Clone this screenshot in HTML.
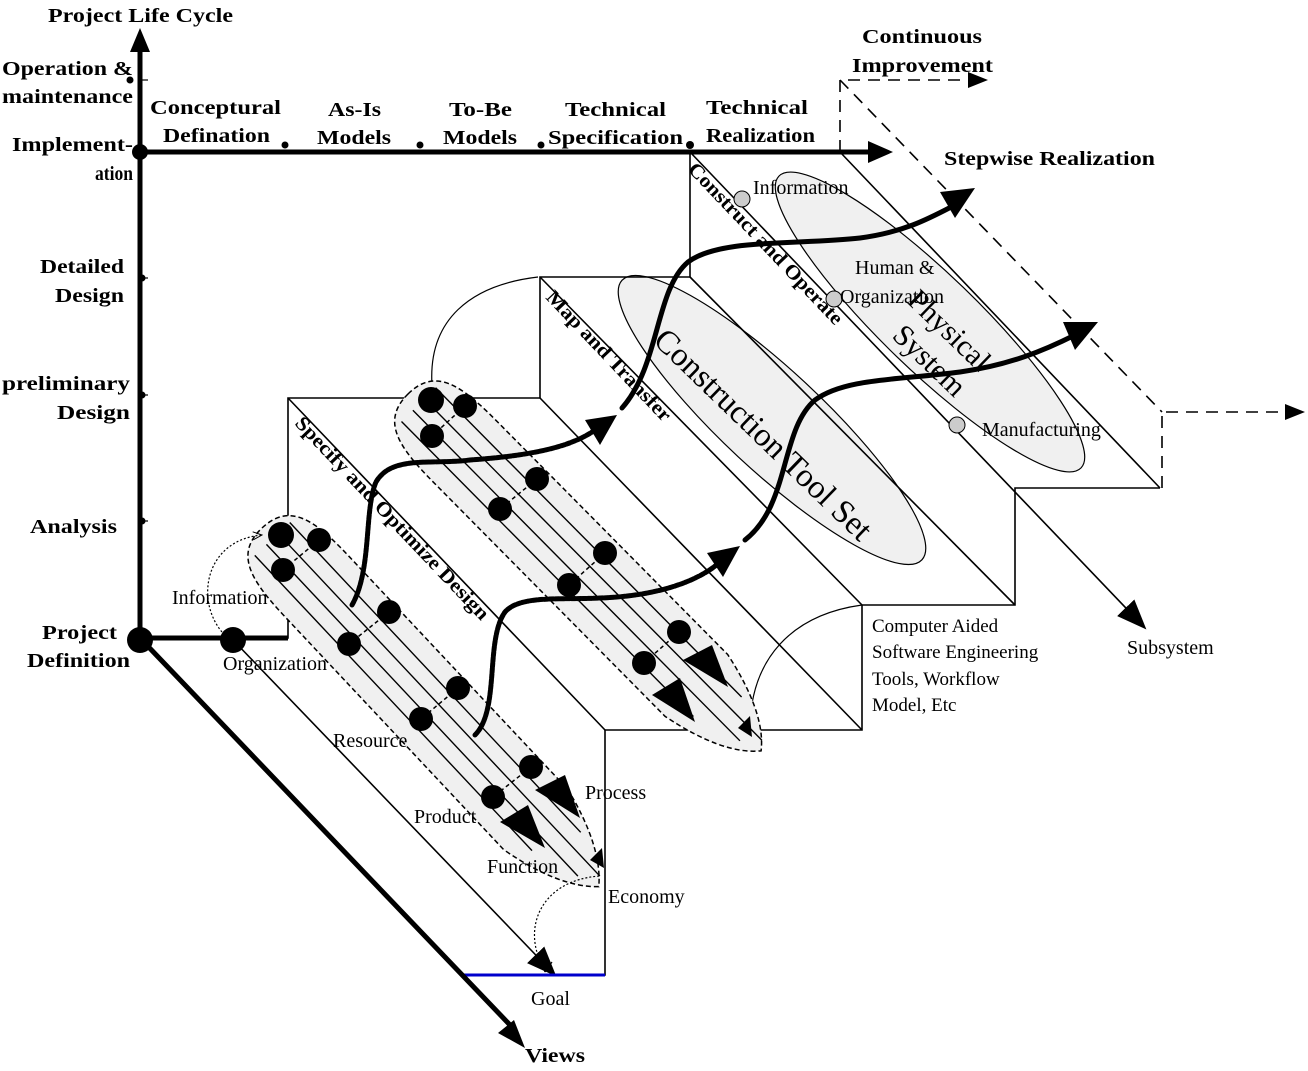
<!DOCTYPE html>
<html><head><meta charset="utf-8"><style>
html,body{margin:0;padding:0;background:#fff;}
svg{display:block;}
text{font-family:"Liberation Serif",serif;fill:#000;}
.b{font-weight:bold;font-size:20px;}
.r{font-size:20px;}
</style></head><body>
<svg width="1308" height="1071" viewBox="0 0 1308 1071" xmlns="http://www.w3.org/2000/svg">
<defs>
<marker id="ahb" markerWidth="30" markerHeight="24" refX="28" refY="12" orient="auto" markerUnits="userSpaceOnUse">
<path d="M0,0 L30,12 L0,24 Z" fill="#000"/></marker>
<marker id="aho" markerWidth="10" markerHeight="10" refX="9" refY="5" orient="auto" markerUnits="userSpaceOnUse">
<path d="M0,1 L9,5 L0,9" fill="none" stroke="#000" stroke-width="1"/></marker>
</defs>

<ellipse cx="772" cy="420" rx="205" ry="50" transform="rotate(43 772 420)" fill="#f0f0f0" stroke="#000" stroke-width="1.2"/>
<ellipse cx="930" cy="322" rx="210" ry="48" transform="rotate(44 930 322)" fill="#f0f0f0" stroke="#000" stroke-width="1.2"/>

<g stroke="#000" stroke-width="1.6" fill="none">
<polyline points="140,638 288,638 288,398 540,398 540,277 690,277 690,152"/>
<polyline points="462,975 605,975 605,730 862,730 862,605 1015,605 1015,488 1160,488"/>
<line x1="288" y1="398" x2="605" y2="730"/>
<line x1="540" y1="398" x2="862" y2="730"/>
<line x1="540" y1="277" x2="862" y2="605"/>
<line x1="690" y1="277" x2="1015" y2="605"/>
<line x1="840" y1="152" x2="1160" y2="488"/>
<line x1="690" y1="152" x2="1145" y2="628" marker-end="url(#ahb)"/>
<line x1="233" y1="640" x2="555" y2="975" marker-end="url(#ahb)"/>
<path d="M432,385 C428,320 470,285 538,277" stroke-width="1.2"/>
<path d="M750,725 C752,660 790,615 862,605" stroke-width="1.2"/>
</g>
<line x1="462" y1="975" x2="605" y2="975" stroke="#0000cc" stroke-width="3"/>

<g stroke="#000" stroke-width="1.6" fill="none" stroke-dasharray="12,8">
<polyline points="840,152 840,80 975,80"/>
<line x1="840" y1="80" x2="1162" y2="412"/>
<polyline points="1162,488 1162,412 1295,412"/>
</g>
<path d="M968,72 L988,80 L968,88 Z" fill="#000"/>
<path d="M1285,404 L1305,412 L1285,420 Z" fill="#000"/>

<g transform="translate(262,528) rotate(46.8)">
<path d="M0,0 C0,-38 30,-44 80,-44 L400,-44 Q465,-30 492,0 Q465,30 400,44 L80,44 C30,44 0,38 0,0 Z" fill="#f0f0f0" stroke="#000" stroke-width="1.5" stroke-dasharray="5,3"/>
<g stroke="#000" stroke-width="1.4">
<line x1="15" y1="-24" x2="440" y2="-24"/>
<line x1="15" y1="-8" x2="485" y2="-8"/>
<line x1="15" y1="8" x2="470" y2="8"/>
<line x1="15" y1="24" x2="420" y2="24"/>
</g>
</g>
<g transform="translate(408,394) rotate(45.3)">
<path d="M0,0 C0,-38 30,-44 80,-44 L410,-44 Q478,-30 502,0 Q478,30 410,44 L80,44 C30,44 0,38 0,0 Z" fill="#f0f0f0" stroke="#000" stroke-width="1.5" stroke-dasharray="5,3"/>
<g stroke="#000" stroke-width="1.4">
<line x1="15" y1="-24" x2="450" y2="-24"/>
<line x1="15" y1="-8" x2="495" y2="-8"/>
<line x1="15" y1="8" x2="480" y2="8"/>
<line x1="15" y1="24" x2="430" y2="24"/>
</g>
</g>

<g stroke="#000" stroke-width="1.5" stroke-dasharray="4,3">
<line x1="319" y1="540" x2="283" y2="570"/><line x1="389" y1="612" x2="349" y2="644"/>
<line x1="458" y1="688" x2="421" y2="719"/><line x1="531" y1="767" x2="493" y2="797"/>
<line x1="465" y1="406" x2="432" y2="436"/><line x1="537" y1="479" x2="500" y2="509"/>
<line x1="605" y1="553" x2="569" y2="585"/><line x1="679" y1="632" x2="644" y2="663"/>
</g>
<g fill="#000">
<circle cx="281" cy="535" r="13"/><circle cx="319" cy="540" r="12"/><circle cx="283" cy="570" r="12"/>
<circle cx="389" cy="612" r="12"/><circle cx="349" cy="644" r="12"/>
<circle cx="458" cy="688" r="12"/><circle cx="421" cy="719" r="12"/>
<circle cx="531" cy="767" r="12"/><circle cx="493" cy="797" r="12"/>
<circle cx="431" cy="400" r="13"/><circle cx="465" cy="406" r="12"/><circle cx="432" cy="436" r="12"/>
<circle cx="537" cy="479" r="12"/><circle cx="500" cy="509" r="12"/>
<circle cx="605" cy="553" r="12"/><circle cx="569" cy="585" r="12"/>
<circle cx="679" cy="632" r="12"/><circle cx="644" cy="663" r="12"/>
<path d="M535,790 L565,775 L580,818 Z"/>
<path d="M500,822 L528,805 L545,848 Z"/>
<path d="M590,860 L602,848 L604,868 Z"/>
<path d="M683,660 L712,645 L728,687 Z"/>
<path d="M652,695 L680,678 L695,722 Z"/>
<path d="M738,728 L750,716 L752,737 Z"/>
</g>

<g fill="none" stroke="#000" stroke-width="5" stroke-linecap="round" stroke-dasharray="4,1.5">
<path d="M352,605 C372,570 364,510 376,482 C392,455 430,465 470,460 C540,455 575,445 598,428"/>
<path d="M475,735 C500,710 485,640 505,612 C520,595 560,600 600,598 C660,596 700,580 720,562"/>
</g>
<path d="M585,420 L617,415 L600,445 Z" fill="#000"/>
<path d="M707,553 L740,546 L723,577 Z" fill="#000"/>
<g fill="none" stroke="#000" stroke-width="5" stroke-linecap="round">
<path d="M622,408 C660,365 655,290 688,262 C720,238 800,245 860,238 C905,232 930,218 955,205"/>
<path d="M745,540 C790,505 780,430 815,400 C845,378 900,380 960,372 C1010,365 1045,350 1075,335"/>
</g>
<path d="M940,192 L975,188 L955,218 Z" fill="#000"/>
<path d="M1063,322 L1098,322 L1075,350 Z" fill="#000"/>

<g fill="none" stroke="#000" stroke-width="1.2" stroke-dasharray="2,2">
<path d="M222,632 C195,600 205,540 262,535" marker-end="url(#aho)"/>
<path d="M545,970 C520,930 540,880 600,876" />
</g>
<path d="M545,972 L540,960 M545,972 L552,962" stroke="#000" stroke-width="1.2"/>

<g fill="#ccc" stroke="#000" stroke-width="1">
<circle cx="742" cy="199" r="8"/><circle cx="834" cy="299" r="8"/><circle cx="957" cy="425" r="8"/>
</g>

<g stroke="#000" stroke-width="5" fill="none">
<line x1="140" y1="640" x2="140" y2="50"/>
<line x1="140" y1="152" x2="870" y2="152"/>
<line x1="140" y1="638" x2="510" y2="1025"/>
<line x1="140" y1="638" x2="288" y2="638"/>
</g>
<path d="M130,52 L140,28 L150,52 Z" fill="#000"/>
<path d="M868,141 L893,152 L868,163 Z" fill="#000"/>
<path d="M498,1033 L525,1048 L514,1020 Z" fill="#000"/>
<circle cx="140" cy="640" r="13" fill="#000"/>
<circle cx="140" cy="152" r="8" fill="#000"/>
<circle cx="233" cy="640" r="13" fill="#000"/>
<g fill="#000">
<circle cx="130" cy="80" r="3.5"/><circle cx="142" cy="278" r="3.5"/><circle cx="142" cy="395" r="3.5"/><circle cx="142" cy="521" r="3.5"/>
<circle cx="285" cy="145" r="3.5"/><circle cx="420" cy="145" r="3.5"/><circle cx="541" cy="145" r="3.5"/><circle cx="690" cy="145" r="4"/>
</g>
<g stroke="#000" stroke-width="1.2">
<line x1="140" y1="80" x2="148" y2="80"/><line x1="140" y1="278" x2="148" y2="278"/><line x1="140" y1="395" x2="148" y2="395"/><line x1="140" y1="521" x2="148" y2="521"/>
</g>

<g class="b">
<text x="48" y="22" textLength="185" lengthAdjust="spacingAndGlyphs">Project Life Cycle</text>
<text x="2" y="75" textLength="131" lengthAdjust="spacingAndGlyphs">Operation &amp;</text>
<text x="2" y="103" textLength="131" lengthAdjust="spacingAndGlyphs">maintenance</text>
<text x="12" y="151" textLength="121" lengthAdjust="spacingAndGlyphs">Implement-</text>
<text x="95" y="180" textLength="38" lengthAdjust="spacingAndGlyphs">ation</text>
<text x="40" y="273" textLength="84" lengthAdjust="spacingAndGlyphs">Detailed</text>
<text x="55" y="302" textLength="69" lengthAdjust="spacingAndGlyphs">Design</text>
<text x="2" y="390" textLength="128" lengthAdjust="spacingAndGlyphs">preliminary</text>
<text x="57" y="419" textLength="73" lengthAdjust="spacingAndGlyphs">Design</text>
<text x="30" y="533" textLength="87" lengthAdjust="spacingAndGlyphs">Analysis</text>
<text x="42" y="639" textLength="75" lengthAdjust="spacingAndGlyphs">Project</text>
<text x="27" y="667" textLength="103" lengthAdjust="spacingAndGlyphs">Definition</text>
<text x="150" y="114" textLength="131" lengthAdjust="spacingAndGlyphs">Conceptural</text>
<text x="163" y="142" textLength="107" lengthAdjust="spacingAndGlyphs">Defination</text>
<text x="328" y="116" textLength="53" lengthAdjust="spacingAndGlyphs">As-Is</text>
<text x="317" y="144" textLength="74" lengthAdjust="spacingAndGlyphs">Models</text>
<text x="449" y="116" textLength="63" lengthAdjust="spacingAndGlyphs">To-Be</text>
<text x="443" y="144" textLength="74" lengthAdjust="spacingAndGlyphs">Models</text>
<text x="565" y="116" textLength="101" lengthAdjust="spacingAndGlyphs">Technical</text>
<text x="548" y="144" textLength="135" lengthAdjust="spacingAndGlyphs">Specification</text>
<text x="706" y="114" textLength="102" lengthAdjust="spacingAndGlyphs">Technical</text>
<text x="706" y="142" textLength="109" lengthAdjust="spacingAndGlyphs">Realization</text>
<text x="862" y="43" textLength="120" lengthAdjust="spacingAndGlyphs">Continuous</text>
<text x="852" y="72" textLength="141" lengthAdjust="spacingAndGlyphs">Improvement</text>
<text x="944" y="165" textLength="211" lengthAdjust="spacingAndGlyphs">Stepwise Realization</text>
<text x="525" y="1062" textLength="60" lengthAdjust="spacingAndGlyphs">Views</text>
</g>

<g class="b" style="font-size:20px">
<text transform="translate(294,424) rotate(46.5)" textLength="272" lengthAdjust="spacingAndGlyphs">Specify and Optimize Design</text>
<text transform="translate(545,298) rotate(46.5)" textLength="172" lengthAdjust="spacingAndGlyphs">Map and Transfer</text>
<text transform="translate(687,170) rotate(46.5)" textLength="215" lengthAdjust="spacingAndGlyphs">Construct and Operate</text>
</g>
<text transform="translate(652,342) rotate(44)" style="font-size:33px">Construction Tool Set</text>
<text transform="translate(906,302) rotate(44)" style="font-size:30px">Physical</text>
<text transform="translate(891,337) rotate(44)" style="font-size:30px">System</text>

<g class="r">
<text x="172" y="604">Information</text>
<text x="223" y="670">Organization</text>
<text x="333" y="747">Resource</text>
<text x="414" y="823">Product</text>
<text x="585" y="799">Process</text>
<text x="487" y="873">Function</text>
<text x="608" y="903">Economy</text>
<text x="531" y="1005">Goal</text>
<text x="1127" y="654">Subsystem</text>
<text x="753" y="194">Information</text>
<text x="855" y="274">Human &amp;</text>
<text x="840" y="303">Organization</text>
<text x="982" y="436">Manufacturing</text>
</g>
<g style="font-size:19px">
<text x="872" y="632">Computer Aided</text>
<text x="872" y="658">Software Engineering</text>
<text x="872" y="685">Tools, Workflow</text>
<text x="872" y="711">Model, Etc</text>
</g>
</svg>
</body></html>
